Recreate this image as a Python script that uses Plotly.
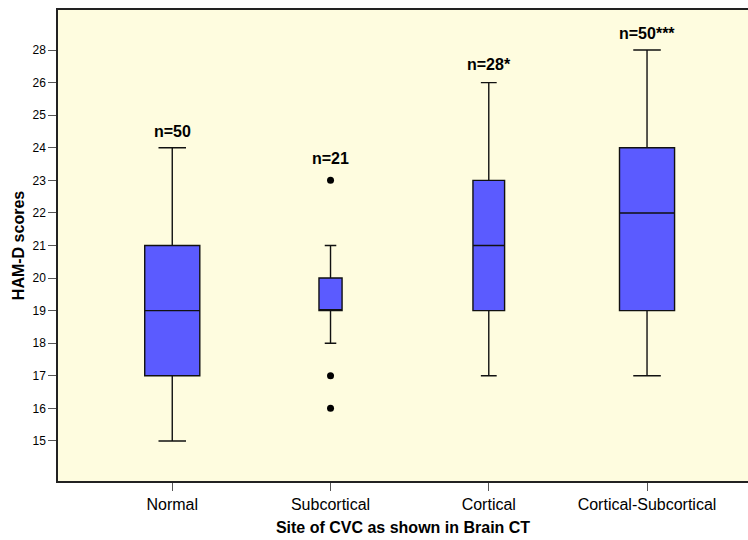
import plotly.graph_objects as go

categories = ["Normal", "Subcortical", "Cortical", "Cortical-Subcortical"]
n_labels = ["n=50", "n=21", "n=28*", "n=50***"]
n_label_y = [24.5, 23.68, 26.55, 27.5]
# box statistics (in axis units)
q1 = [17, 19, 19, 19]
median = [19, 19, 21, 22]
q3 = [21, 20, 23, 24]
lower = [15, 18, 17, 17]
upper = [24, 21, 26, 27]
box_widths = [0.348, 0.146, 0.2, 0.348]
outlier_x = [1, 1, 1]
outlier_y = [23, 17, 16]
# y-axis tick positions and their printed labels
y_tickvals = [15, 16, 17, 18, 19, 20, 21, 22, 23, 24, 25, 26, 27]
y_ticktext = ["15", "16", "17", "18", "19", "20", "21", "22", "23", "24", "25", "26", "28"]

FONT = "Liberation Sans, Arial, sans-serif"

fig = go.Figure()
for i, cat in enumerate(categories):
    fig.add_trace(go.Box(
        x=[i], q1=[q1[i]], median=[median[i]], q3=[q3[i]],
        lowerfence=[lower[i]], upperfence=[upper[i]],
        width=box_widths[i], whiskerwidth=0.5,
        fillcolor="#5B5BFF", line=dict(color="#111111", width=1.4),
        boxpoints=False, showlegend=False, name=cat,
    ))

fig.add_trace(go.Scatter(
    x=outlier_x, y=outlier_y, mode="markers",
    marker=dict(color="black", size=7), showlegend=False,
))

for i, t in enumerate(n_labels):
    fig.add_annotation(x=i, y=n_label_y[i], text="<b>%s</b>" % t, showarrow=False,
                       font=dict(family=FONT, size=16, color="black"))

fig.update_layout(
    width=748, height=540,
    margin=dict(l=58, r=0, t=10, b=59),
    paper_bgcolor="white", plot_bgcolor="#FEFCDF",
    font=dict(family=FONT, color="black"),
    xaxis=dict(
        range=[-0.722, 3.638], tickvals=[0, 1, 2, 3], ticktext=categories,
        showgrid=False, zeroline=False, showline=True, linecolor="#222222", linewidth=1.5,
        mirror=True, ticks="outside", ticklen=8, tickcolor="#555555",
        tickfont=dict(size=16, family=FONT),
        title=dict(text="<b>Site of CVC as shown in Brain CT</b>", font=dict(size=16, family=FONT), standoff=10),
    ),
    yaxis=dict(
        range=[13.77, 28.23], tickvals=y_tickvals, ticktext=y_ticktext,
        showgrid=False, zeroline=False, showline=True, linecolor="#222222", linewidth=1.5,
        ticks="outside", ticklen=8, tickcolor="#555555",
        tickfont=dict(size=12, family=FONT),
        title=dict(text="<b>HAM-D scores</b>", font=dict(size=16, family=FONT), standoff=4),
    ),
)

fig.write_html("out.html")
